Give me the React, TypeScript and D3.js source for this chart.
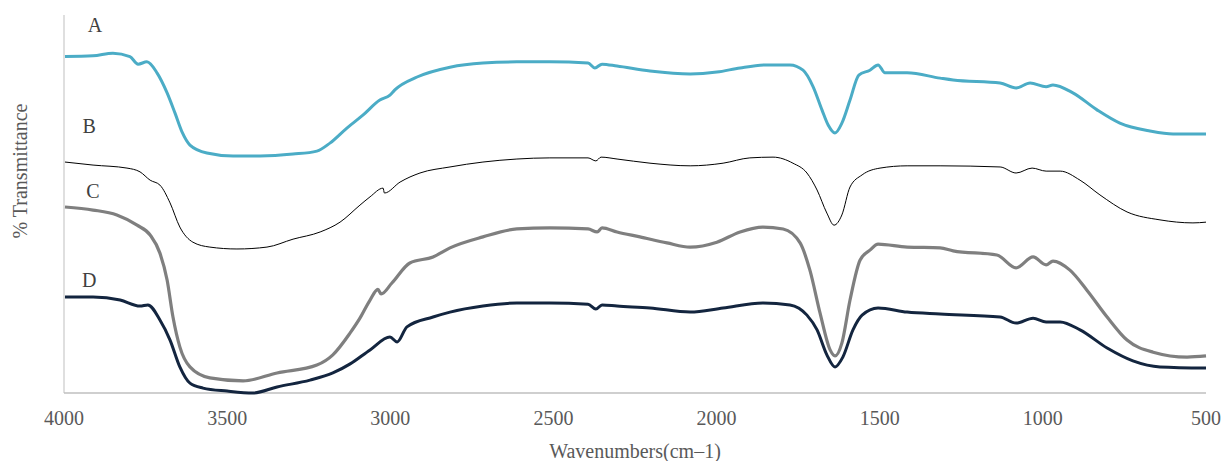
import React from "react";
import * as d3 from "d3";

// FTIR spectra, wavenumber (cm-1) vs relative % transmittance (arbitrary offsets)
const wavenumbersA = [3997, 3911, 3850, 3798, 3773, 3746, 3715, 3684, 3660, 3638, 3614, 3562, 3482, 3399, 3298, 3225, 3185, 3133, 3084, 3032, 3001, 2986, 2918, 2817, 2716, 2612, 2511, 2394, 2373, 2351, 2305, 2204, 2081, 1999, 1928, 1845, 1775, 1735, 1704, 1677, 1658, 1637, 1616, 1591, 1564, 1530, 1505, 1484, 1416, 1315, 1275, 1131, 1082, 1039, 990, 969, 908, 834, 764, 672, 601, 500];
const seriesA = [89.0, 89.2, 89.9, 89.0, 87.0, 87.6, 84.7, 79.4, 74.1, 69.0, 65.6, 63.5, 62.7, 62.7, 63.2, 64.0, 66.1, 70.1, 73.5, 77.5, 78.8, 80.2, 83.6, 86.2, 87.3, 87.6, 87.6, 87.3, 86.0, 87.0, 86.5, 85.2, 84.4, 84.9, 86.0, 86.8, 86.8, 85.4, 81.0, 74.9, 70.9, 68.8, 71.4, 77.5, 84.1, 85.4, 86.8, 84.7, 84.7, 83.3, 82.8, 82.0, 80.7, 82.0, 81.0, 81.5, 79.4, 74.9, 71.4, 69.3, 68.5, 68.5];

const wavenumbersB = [3997, 3911, 3807, 3767, 3736, 3706, 3675, 3645, 3605, 3553, 3470, 3378, 3298, 3215, 3154, 3093, 3062, 3022, 3018, 2970, 2909, 2817, 2716, 2612, 2511, 2394, 2370, 2354, 2305, 2204, 2081, 1980, 1898, 1827, 1766, 1723, 1692, 1662, 1640, 1616, 1591, 1554, 1499, 1416, 1315, 1131, 1082, 1033, 990, 947, 886, 825, 742, 641, 540, 500];
const seriesB = [61.1, 60.3, 59.5, 58.5, 56.3, 55.0, 50.3, 43.9, 39.9, 38.6, 38.1, 38.6, 40.7, 42.6, 45.2, 49.7, 51.9, 54.2, 52.9, 55.8, 58.2, 59.8, 61.1, 61.9, 62.2, 62.2, 61.4, 62.4, 61.9, 60.8, 60.1, 60.8, 62.2, 62.4, 60.8, 58.2, 53.7, 47.6, 44.4, 47.1, 54.5, 57.7, 59.5, 60.1, 60.1, 59.8, 58.2, 59.5, 58.7, 58.7, 56.3, 52.4, 47.9, 45.8, 45.0, 45.2];

const wavenumbersC = [3997, 3911, 3838, 3776, 3736, 3706, 3684, 3666, 3645, 3614, 3553, 3451, 3347, 3225, 3176, 3123, 3093, 3062, 3038, 3028, 2995, 2940, 2869, 2817, 2716, 2612, 2511, 2394, 2366, 2351, 2305, 2235, 2152, 2081, 1999, 1928, 1858, 1796, 1744, 1714, 1683, 1652, 1637, 1616, 1591, 1560, 1530, 1505, 1416, 1315, 1275, 1141, 1082, 1030, 990, 969, 917, 865, 803, 742, 662, 558, 500];
const seriesC = [49.2, 48.4, 47.1, 44.4, 41.8, 37.0, 29.9, 20.1, 12.2, 6.9, 4.0, 3.2, 5.3, 7.4, 10.1, 15.9, 19.8, 24.6, 27.4, 26.2, 29.1, 34.4, 36.0, 38.4, 41.3, 43.4, 43.7, 43.4, 42.6, 43.7, 42.6, 41.3, 39.7, 38.6, 39.9, 42.6, 43.9, 43.4, 39.7, 32.5, 21.2, 11.4, 9.8, 13.2, 24.6, 35.2, 37.8, 39.4, 38.6, 38.4, 37.6, 36.5, 33.1, 36.0, 33.9, 34.9, 32.5, 27.2, 20.1, 14.0, 10.8, 9.5, 9.8];

const wavenumbersD = [3997, 3911, 3828, 3767, 3743, 3706, 3675, 3645, 3614, 3574, 3500, 3421, 3347, 3246, 3176, 3123, 3062, 3001, 2979, 2949, 2869, 2817, 2716, 2612, 2511, 2394, 2370, 2351, 2305, 2204, 2081, 1980, 1858, 1775, 1723, 1692, 1662, 1637, 1613, 1582, 1554, 1505, 1416, 1315, 1131, 1082, 1030, 990, 947, 886, 803, 724, 641, 500];
const seriesD = [25.4, 25.4, 24.6, 23.0, 23.3, 19.3, 14.0, 6.9, 2.6, 1.3, 0.5, 0.0, 1.6, 3.4, 5.3, 7.7, 11.4, 14.8, 13.5, 17.5, 20.1, 21.4, 23.0, 23.8, 23.8, 23.5, 22.2, 23.3, 23.0, 22.5, 21.4, 22.5, 23.8, 23.3, 20.6, 16.7, 10.1, 6.9, 9.5, 16.7, 20.6, 22.5, 21.4, 20.9, 20.1, 18.5, 19.8, 18.8, 18.8, 16.7, 11.9, 8.5, 6.9, 6.6];

const seriesNames = ["A", "B", "C", "D"];
const labelWavenumbers = [3905, 3923, 3911, 3923];
const labelValues = [95.5, 68.8, 51.6, 28.0];
const xTicks = [4000, 3500, 3000, 2500, 2000, 1500, 1000, 500];

const W = 1223;
const H = 461;
const FONT = "Liberation Serif";

const styles = [
  { color: "#4bacc6", width: 3 },
  { color: "#000000", width: 1 },
  { color: "#7f7f7f", width: 3.2 },
  { color: "#13253f", width: 3 },
];

export default function App() {
  const x = d3.scaleLinear().domain([4000, 500]).range([64, 1206]);
  const y = d3.scaleLinear().domain([0, 100]).range([393, 15]);

  const line = d3
    .line<[number, number]>()
    .x((d) => x(d[0]))
    .y((d) => y(d[1]))
    .curve(d3.curveMonotoneX);

  const all = [
    d3.zip(wavenumbersA, seriesA),
    d3.zip(wavenumbersB, seriesB),
    d3.zip(wavenumbersC, seriesC),
    d3.zip(wavenumbersD, seriesD),
  ] as [number, number][][];

  const textStyle = { fontFamily: FONT };

  return (
    <svg
      width={W}
      height={H}
      style={{ position: "absolute", left: 0, top: 0, background: "#fff" }}
    >
      {/* axes */}
      <line x1={x(4000)} x2={x(4000)} y1={y(100)} y2={y(0)} stroke="#bfbfbf" strokeWidth={1} />
      <line x1={x(4000)} x2={x(500)} y1={y(0)} y2={y(0)} stroke="#bfbfbf" strokeWidth={1.5} />
      {xTicks.map((t) => (
        <text key={t} x={x(t)} y={425} textAnchor="middle" fontSize={20} fill="#595959" style={textStyle}>
          {t}
        </text>
      ))}
      <text x={635} y={458} textAnchor="middle" fontSize={20} fill="#595959" style={textStyle}>
        Wavenumbers(cm–1)
      </text>
      <text
        transform={`translate(27, 171) rotate(-90)`}
        textAnchor="middle"
        fontSize={20}
        fill="#595959"
        style={textStyle}
      >
        % Transmittance
      </text>

      {/* spectra */}
      {all.map((pts, i) => (
        <path
          key={seriesNames[i]}
          d={line(pts) || ""}
          fill="none"
          stroke={styles[i].color}
          strokeWidth={styles[i].width}
          strokeLinejoin="round"
        />
      ))}

      {/* curve labels */}
      {seriesNames.map((n, i) => (
        <text
          key={n}
          x={x(labelWavenumbers[i])}
          y={y(labelValues[i])}
          textAnchor="middle"
          fontSize={20}
          fill="#404040"
          style={textStyle}
        >
          {n}
        </text>
      ))}
    </svg>
  );
}
